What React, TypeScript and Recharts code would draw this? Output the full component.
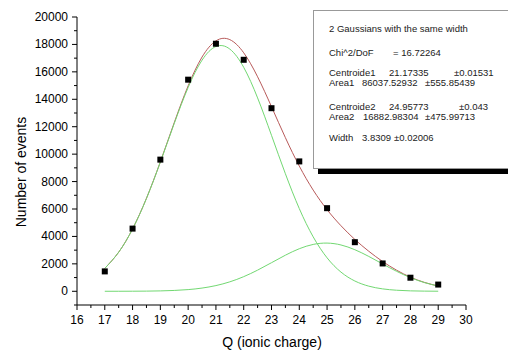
import { ComposedChart, Line, Scatter, XAxis, YAxis } from 'recharts';

// measured points
const charges = [17, 18, 19, 20, 21, 22, 23, 24, 25, 26, 27, 28, 29];
const events = [1450, 4570, 9600, 15430, 18050, 16880, 13350, 9470, 6060, 3580, 2030, 990, 490];

// fitted curves, sampled every 0.5
const fitQ = [17, 17.5, 18, 18.5, 19, 19.5, 20, 20.5, 21, 21.5, 22, 22.5, 23, 23.5, 24, 24.5, 25, 25.5, 26, 26.5, 27, 27.5, 28, 28.5, 29];
const fitTotal = [1670, 2850, 4550, 6780, 9440, 12300, 14980, 17080, 18260, 18350, 17390, 15640, 13460, 11200, 9130, 7380, 5950, 4780, 3780, 2920, 2170, 1540, 1030, 650, 385];
const fitPeak1 = [1670, 2850, 4540, 6770, 9420, 12240, 14860, 16850, 17850, 17660, 16330, 14100, 11370, 8570, 6030, 3970, 2440, 1400, 750, 375, 175, 77, 31, 12, 4];
const fitPeak2 = [1, 2, 5, 12, 28, 61, 123, 234, 416, 689, 1067, 1543, 2085, 2632, 3103, 3417, 3515, 3378, 3032, 2543, 1992, 1458, 996, 636, 379];

const xTicks = [16, 16.5, 17, 17.5, 18, 18.5, 19, 19.5, 20, 20.5, 21, 21.5, 22, 22.5, 23, 23.5, 24, 24.5, 25, 25.5, 26, 26.5, 27, 27.5, 28, 28.5, 29, 29.5, 30];
const yTicks = [-1000, 0, 1000, 2000, 3000, 4000, 5000, 6000, 7000, 8000, 9000, 10000, 11000, 12000, 13000, 14000, 15000, 16000, 17000, 18000, 19000, 20000];

const fitLines = [
  'Chi^2/DoF',
  'Centroide1', 'Area1',
  'Centroide2', 'Area2',
  'Width',
];

const points = charges.map((q, i) => ({ x: q, y: events[i] }));
const curves = fitQ.map((q, i) => ({ x: q, total: fitTotal[i], g1: fitPeak1[i], g2: fitPeak2[i] }));

const font = '"Liberation Sans", Arial, sans-serif';

const XTick = (props: any) => {
  const { x, y, payload } = props;
  const v = payload.value;
  const major = Number.isInteger(v);
  return (
    <g>
      <line x1={x} x2={x} y1={y} y2={y + (major ? 5 : 3)} stroke="#000" />
      {major && (
        <text x={x} y={y + 19} textAnchor="middle" fontSize={12} fontFamily={font} fill="#000">
          {v}
        </text>
      )}
    </g>
  );
};

const YTick = (props: any) => {
  const { x, y, payload } = props;
  const v = payload.value;
  const major = v >= 0 && v % 2000 === 0;
  return (
    <g>
      <line x1={x - (major ? 5 : 3)} x2={x} y1={y} y2={y} stroke="#000" />
      {major && (
        <text x={x - 9} y={y + 4} textAnchor="end" fontSize={12} fontFamily={font} fill="#000">
          {v}
        </text>
      )}
    </g>
  );
};

const XLabel = () => (
  <text x={272} y={347} textAnchor="middle" fontSize={14} fontFamily={font} fill="#000">
    Q (ionic charge)
  </text>
);

const YLabel = () => (
  <text x={26} y={172} transform="rotate(-90 26 172)" textAnchor="middle" fontSize={14} fontFamily={font} fill="#000">
    Number of events
  </text>
);

const Square = (props: any) => (
  <rect x={props.cx - 3} y={props.cy - 3} width={6} height={6} fill="#000" />
);

const row = { position: 'absolute' as const, whiteSpace: 'nowrap' as const };

const App = () => {
  return (
    <div style={{ position: 'relative', width: 508, height: 354, background: '#fff', fontFamily: font }}>
      <style>{'body{margin:0}'}</style>
      <ComposedChart width={508} height={354} margin={{ top: 17, right: 42, bottom: 19, left: 0 }}>
        <XAxis
          type="number"
          dataKey="x"
          domain={[16, 30]}
          ticks={xTicks}
          interval={0}
          height={30}
          tickSize={0}
          tickMargin={0}
          tickLine={false}
          tick={<XTick />}
          axisLine={{ stroke: '#000' }}
          allowDataOverflow
          label={<XLabel />}
        />
        <YAxis
          type="number"
          domain={[-1000, 20000]}
          ticks={yTicks}
          interval={0}
          width={77}
          tickSize={0}
          tickMargin={0}
          tickLine={false}
          tick={<YTick />}
          axisLine={{ stroke: '#000' }}
          allowDataOverflow
          label={<YLabel />}
        />
        <Line data={curves} dataKey="total" type="natural" stroke="#b85a5a" strokeWidth={1} dot={false} isAnimationActive={false} />
        <Line data={curves} dataKey="g1" type="natural" stroke="#72d872" strokeWidth={1} dot={false} isAnimationActive={false} />
        <Line data={curves} dataKey="g2" type="natural" stroke="#72d872" strokeWidth={1} dot={false} isAnimationActive={false} />
        <Scatter data={points} dataKey="y" shape={<Square />} isAnimationActive={false} />
      </ComposedChart>
      <div style={{ position: 'absolute', left: 318, top: 15, width: 200, height: 159, background: '#000' }} />
      <div
        style={{
          position: 'absolute',
          left: 313,
          top: 10,
          width: 210,
          height: 157,
          background: '#fff',
          border: '1px solid #999',
          fontSize: 9.5,
          color: '#222',
        }}
      >
        <div style={{ ...row, left: 15, top: 12 }}>2 Gaussians with the same width</div>
        <div style={{ ...row, left: 15, top: 36 }}>{fitLines[0]}</div>
        <div style={{ ...row, left: 79, top: 36 }}>= 16.72264</div>
        <div style={{ ...row, left: 15, top: 56 }}>{fitLines[1]}</div>
        <div style={{ ...row, left: 75, top: 56 }}>21.17335</div>
        <div style={{ ...row, left: 140, top: 56 }}>±0.01531</div>
        <div style={{ ...row, left: 15, top: 66 }}>{fitLines[2]}</div>
        <div style={{ ...row, left: 48, top: 66 }}>86037.52932</div>
        <div style={{ ...row, left: 111, top: 66 }}>±555.85439</div>
        <div style={{ ...row, left: 15, top: 90 }}>{fitLines[3]}</div>
        <div style={{ ...row, left: 75, top: 90 }}>24.95773</div>
        <div style={{ ...row, left: 145, top: 90 }}>±0.043</div>
        <div style={{ ...row, left: 15, top: 100 }}>{fitLines[4]}</div>
        <div style={{ ...row, left: 49, top: 100 }}>16882.98304</div>
        <div style={{ ...row, left: 111, top: 100 }}>±475.99713</div>
        <div style={{ ...row, left: 15, top: 121 }}>{fitLines[5]}</div>
        <div style={{ ...row, left: 48, top: 121 }}>3.8309</div>
        <div style={{ ...row, left: 80, top: 121 }}>±0.02006</div>
      </div>
    </div>
  );
};

export default App;
